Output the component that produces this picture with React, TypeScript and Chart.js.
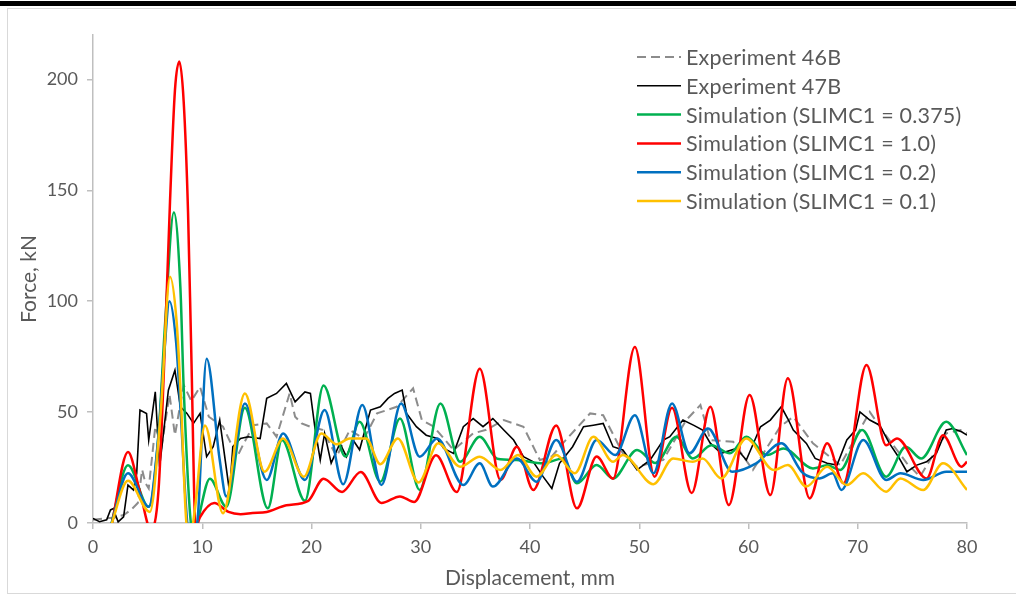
import { useEffect, useRef } from "react";
import { Chart, registerables } from "chart.js";
Chart.register(...registerables);

const xTicks = [0, 10, 20, 30, 40, 50, 60, 70, 80];
const yTicks = [0, 50, 100, 150, 200];

const labels = [
  "Experiment 46B",
  "Experiment 47B",
  "Simulation (SLIMC1 = 0.375)",
  "Simulation (SLIMC1 = 1.0)",
  "Simulation (SLIMC1 = 0.2)",
  "Simulation (SLIMC1 = 0.1)",
];

const exp46X = [0, 1, 2, 2.8, 3.5, 4.1, 4.5, 4.8, 5.1, 5.7, 6.3, 7.0, 7.5, 8.3, 9.0, 9.8, 10.6, 11.9, 13.2, 13.8, 14.7, 15.9, 16.8, 18.0, 18.5, 19.1, 19.9, 21.0, 22.3, 23.5, 24.8, 26.0, 27.8, 29.3, 30.1, 31.2, 33.0, 34.8, 36.0, 37.6, 39.4, 40.9, 42.0, 43.0, 45.5, 46.7, 48.5, 49.8, 52.2, 54.3, 55.6, 56.5, 58.6, 60.4, 62.9, 64.1, 65.9, 68.4, 71.1, 72.5, 74.5, 75.7, 78.1, 79.4, 80];
const exp46Y = [1.5, 2, 2.5, 3.6, 6, 9, 24, 18, 15.6, 43.4, 35, 58, 39.6, 62.2, 55, 61.4, 47.9, 43.4, 29.9, 35.9, 44.1, 44.9, 38.9, 58.4, 47.9, 44.9, 43.4, 42, 30, 41.9, 38, 49.4, 52.4, 60.7, 46.4, 43.4, 32.9, 40.4, 42, 46.4, 43.4, 28.4, 30, 35.9, 49.4, 48.6, 31.4, 25.4, 28.4, 46.4, 53.2, 37.4, 36.6, 23.9, 43.4, 47.9, 35.9, 26.1, 50.1, 40, 26.9, 20.9, 40.4, 41.9, 40.4];

const exp47X = [0, 0.6, 1.25, 1.6, 1.9, 2.0, 2.3, 2.8, 3.2, 3.7, 4.0, 4.3, 4.9, 5.1, 5.7, 6.1, 6.9, 7.5, 8.0, 8.6, 9.2, 9.8, 10.4, 11.0, 11.6, 12.5, 12.8, 13.5, 14.2, 15.3, 15.9, 16.8, 17.7, 18.5, 19.4, 19.9, 20.3, 20.8, 21.2, 21.8, 22.6, 23.2, 23.8, 24.4, 25.4, 26.3, 27.0, 27.6, 28.3, 28.7, 29.6, 30.5, 31.5, 32.1, 33.0, 33.9, 34.8, 35.7, 36.6, 37.6, 38.5, 39.4, 40.3, 41.2, 42.0, 42.7, 43.9, 44.9, 45.8, 46.7, 47.6, 48.5, 49.8, 51.0, 52.2, 52.8, 54.0, 55.0, 55.8, 56.5, 57.5, 58.9, 59.8, 61.1, 62.0, 63.0, 63.6, 64.1, 65.3, 66.1, 67.2, 68.1, 69.0, 69.8, 70.2, 71.1, 72.0, 72.9, 73.7, 74.5, 75.4, 76.3, 77.2, 78.1, 78.7, 79.5, 80];
const exp47Y = [2.1, 0.6, 1.4, 5.9, 6.6, 4.4, 0.5, 2.8, 17.1, 14.9, 22.4, 50.9, 49.4, 37.4, 59.1, 25.4, 59.9, 68.9, 52.4, 49.4, 44.9, 49.4, 29.9, 34.4, 46.4, 14, 34.4, 38.1, 38.9, 38.1, 56.2, 58.4, 62.9, 54.6, 59.1, 58.4, 43.4, 28.4, 40.4, 27, 35.9, 29.9, 37.4, 33, 50.9, 52.4, 56.2, 58.4, 59.9, 49.4, 43.4, 39.6, 38.1, 33.6, 31.4, 43.4, 47.1, 43.4, 47.1, 41.9, 37.4, 29.9, 27.6, 20.9, 15.6, 26.9, 34.4, 43.4, 44.1, 44.9, 34.4, 32.9, 23.9, 28.4, 37.4, 38.9, 46.4, 44, 41.9, 36, 31.4, 33.6, 28.4, 43.4, 46.4, 52.4, 47, 41.9, 35.9, 29.1, 26.9, 26.1, 37.4, 41.9, 50.1, 46.4, 44.1, 35.9, 30, 23.1, 26.1, 27.6, 31.4, 41.9, 42.6, 41.1, 39.6];

const simGreenX = [1.6, 3.2, 5.1, 6.0, 6.6, 7.4, 8.0, 8.3, 9.0, 9.3, 9.7, 10.7, 12.2, 13.9, 16.0, 17.3, 19.4, 21.1, 23.1, 24.4, 26.3, 28.1, 29.9, 31.8, 33.6, 35.4, 37.0, 38.8, 41.2, 43.0, 44.3, 46.1, 47.6, 49.8, 51.5, 53.4, 54.9, 56.6, 58.3, 59.8, 61.7, 63.2, 65.9, 67.2, 68.4, 70.4, 72.6, 74.4, 75.8, 78.1, 80];
const simGreenY = [-2, 26, 7.3, 40, 90, 140, 106, 61, -2, -6, 3, 20, 7.3, 52, 6.6, 37.4, 10, 62, 30, 45.6, 18.6, 47.1, 14.9, 53.9, 27.6, 38.9, 29, 28.4, 26.9, 29.1, 17.9, 26.1, 20.1, 32.9, 27, 38.9, 29.1, 35.1, 31.4, 38.9, 30.6, 33.6, 24.6, 26, 23.9, 41.9, 20.9, 34.4, 29.1, 45.6, 30.6];

const simRedX = [1.7, 3.2, 4.3, 5.3, 6.0, 6.5, 7.05, 7.5, 7.9, 8.3, 8.7, 9.0, 9.4, 9.8, 11.1, 12.4, 13.5, 14.6, 15.9, 17.7, 19.7, 21.1, 22.8, 24.5, 26.4, 28.1, 29.4, 31.4, 33.3, 35.4, 37.3, 38.8, 40.3, 42.4, 44.3, 46.1, 47.6, 49.6, 51.4, 53.0, 54.8, 56.5, 58.2, 60.1, 62.0, 63.6, 65.6, 67.2, 68.7, 70.8, 72.6, 73.6, 76.3, 77.8, 79.5, 80];
const simRedY = [-1, 32, 14, -3, 15, 70, 145, 195, 208, 190, 140, 76, -2, 2.7, 9, 5, 4, 4.5, 5, 8, 10, 20, 14, 23, 9, 12, 9.5, 30.5, 14, 69.5, 19.4, 34.4, 14.9, 44, 6.6, 30, 20, 79.3, 20.9, 52, 13.5, 52.4, 8.1, 57.7, 12.6, 65.2, 11.1, 35.9, 17.9, 71.2, 35.1, 38.1, 20.1, 39.6, 25.4, 27.6];

const simBlueX = [1.6, 3.2, 5.1, 6.0, 6.5, 7.0, 7.6, 8.0, 8.7, 9.2, 9.6, 10.4, 11.6, 12.2, 13.9, 15.9, 17.4, 19.4, 21.2, 22.9, 24.65, 26.4, 28.2, 29.9, 31.5, 33.9, 35.4, 36.6, 38.8, 40.6, 42.4, 44.3, 46.1, 47.8, 49.6, 51.3, 53.0, 54.6, 56.3, 58.5, 60.7, 63.0, 65.0, 66.5, 67.7, 68.5, 70.5, 72.6, 73.9, 76.0, 78.1, 80];
const simBlueY = [-2, 22.4, 7.3, 40, 75, 100, 82, 52, -3, -8, 3, 74, 28.4, 12, 53.9, 19.4, 40.4, 19.4, 50.9, 17.5, 53.2, 17.1, 53.9, 29.9, 38.1, 17.1, 26.9, 16.4, 29.1, 18.6, 37.4, 18.6, 37.4, 30.6, 48.6, 22.4, 53.9, 31.4, 42.6, 23.1, 26.9, 35.9, 22.4, 20.1, 22.4, 14.9, 37.4, 19.4, 22.4, 19.4, 23.1, 23.1];

const simYellowX = [1.6, 3.2, 5.2, 6.2, 7.05, 7.65, 8.0, 8.55, 8.9, 9.3, 10.25, 11.9, 13.9, 15.7, 17.4, 19.3, 20.9, 22.3, 23.5, 25.0, 26.3, 27.9, 29.8, 31.6, 33.6, 35.4, 37.3, 38.9, 40.6, 42.4, 44.1, 45.8, 47.6, 48.5, 51.3, 53.1, 54.9, 55.8, 57.5, 59.8, 62.3, 63.6, 65.3, 67.2, 69.0, 70.5, 72.6, 73.9, 76.0, 77.8, 80];
const simYellowY = [-2, 19, 5, 50, 111, 91, 61, 0, -6, 5, 44, 4.4, 58.4, 23.1, 38.1, 20.9, 40.4, 35.5, 38.1, 38.1, 26.5, 38.1, 18.3, 35.9, 25.4, 29.9, 23.9, 30.6, 20.9, 30.6, 22.4, 38.9, 27.6, 30.6, 17.5, 29.1, 27.6, 29.1, 20.1, 38.1, 23.9, 26.1, 16.4, 25.4, 17.1, 22.4, 14.1, 20.1, 14.9, 26.9, 14.9];

const pts = (xs: number[], ys: number[]) => xs.map((x, i) => ({ x, y: ys[i] }));

const FONT = "Lato, 'Open Sans', sans-serif";
const TEXT = "#595959";
const AXIS = "#bfbfbf";

const legendPlugin = {
  id: "insideLegend",
  afterDraw(chart: any) {
    const ctx = chart.ctx;
    const items = chart.data.datasets;
    const x0 = chart.chartArea.right - 330;
    const y0 = 57;
    ctx.save();
    items.forEach((ds: any, i: number) => {
      const y = y0 + i * 28.8;
      ctx.strokeStyle = ds.borderColor;
      ctx.lineWidth = ds.borderWidth;
      ctx.setLineDash(ds.borderDash || []);
      ctx.beginPath();
      ctx.moveTo(x0, y);
      ctx.lineTo(x0 + 44, y);
      ctx.stroke();
      ctx.setLineDash([]);
      ctx.fillStyle = TEXT;
      ctx.font = `21.5px ${FONT}`;
      try {
        (ctx as any).letterSpacing = "0.2px";
      } catch (e) {}
      ctx.textBaseline = "middle";
      ctx.textAlign = "left";
      ctx.fillText(ds.label, x0 + 49, y + 1);
      try {
        (ctx as any).letterSpacing = "0px";
      } catch (e) {}
    });
    ctx.restore();
  },
};

export default function App() {
  const ref = useRef<HTMLCanvasElement | null>(null);
  useEffect(() => {
    if (!ref.current) return;
    const sim = (label: string, color: string, xs: number[], ys: number[], order: number) => ({
      label,
      data: pts(xs, ys),
      borderColor: color,
      backgroundColor: color,
      borderWidth: 2.5,
      pointRadius: 0,
      cubicInterpolationMode: "monotone" as const,
      order,
    });
    const chart = new Chart(ref.current, {
      type: "line",
      data: {
        datasets: [
          {
            label: labels[0],
            data: pts(exp46X, exp46Y),
            borderColor: "#8c8c8c",
            backgroundColor: "#8c8c8c",
            borderWidth: 2,
            borderDash: [9, 5],
            pointRadius: 0,
            tension: 0,
            order: 5,
          },
          {
            label: labels[1],
            data: pts(exp47X, exp47Y),
            borderColor: "#000000",
            backgroundColor: "#000000",
            borderWidth: 1.6,
            pointRadius: 0,
            tension: 0,
            order: 4,
          },
          sim(labels[2], "#00b050", simGreenX, simGreenY, 3),
          sim(labels[3], "#ff0000", simRedX, simRedY, 2),
          sim(labels[4], "#0070c0", simBlueX, simBlueY, 1),
          sim(labels[5], "#ffc000", simYellowX, simYellowY, 0),
        ],
      },
      options: {
        animation: false,
        responsive: false,
        maintainAspectRatio: false,
        layout: { padding: { top: 35, right: 49, left: 0, bottom: 0 } },
        plugins: { legend: { display: false }, tooltip: { enabled: false } },
        scales: {
          x: {
            type: "linear",
            min: 0,
            max: 80,
            afterBuildTicks: (s: any) => {
              s.ticks = xTicks.map((v) => ({ value: v }));
            },
            afterFit: (s: any) => {
              s.height = 74;
            },
            grid: { drawOnChartArea: false, drawTicks: true, tickLength: 6, color: AXIS, lineWidth: 1.5 },
            border: { color: AXIS, width: 1.5 },
            ticks: { color: TEXT, font: { family: FONT, size: 18 }, padding: 7, maxRotation: 0 },
            title: {
              display: true,
              text: "Displacement, mm",
              color: TEXT,
              font: { family: FONT, size: 21 },
              padding: { top: 0, bottom: 6 },
            },
          },
          y: {
            type: "linear",
            min: 0,
            max: 220,
            afterBuildTicks: (s: any) => {
              s.ticks = yTicks.map((v) => ({ value: v }));
            },
            afterFit: (s: any) => {
              s.width = 93;
            },
            grid: { drawOnChartArea: false, drawTicks: true, tickLength: 6, color: AXIS, lineWidth: 1.5 },
            border: { color: AXIS, width: 1.5 },
            ticks: { color: TEXT, font: { family: FONT, size: 18 }, padding: 9 },
            title: {
              display: true,
              text: "Force, kN",
              color: TEXT,
              font: { family: FONT, size: 21 },
              padding: { top: 17, bottom: 0 },
            },
          },
        },
      },
      plugins: [legendPlugin],
    });
    return () => chart.destroy();
  }, []);

  return (
    <div style={{ position: "fixed", left: 0, top: 0, width: 1016, height: 597, background: "#fff", overflow: "hidden" }}>
      <div style={{ position: "absolute", left: 0, top: 1, width: 1016, height: 5, background: "#000" }} />
      <div
        style={{
          position: "absolute",
          left: 7,
          top: 8,
          width: 1020,
          height: 584,
          borderTop: "1px solid #d9d9d9",
          borderLeft: "1.5px solid #d9d9d9",
          borderBottom: "1px solid #d9d9d9",
        }}
      />
      <canvas ref={ref} width={1016} height={597} style={{ position: "absolute", left: 0, top: 0 }} />
    </div>
  );
}
